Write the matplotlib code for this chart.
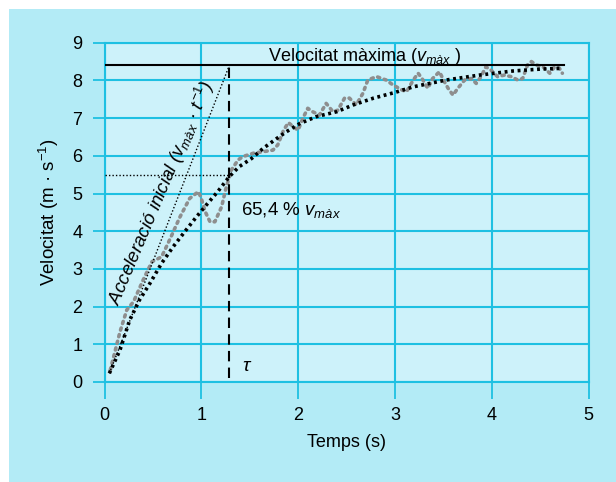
import matplotlib
matplotlib.use("Agg")
import matplotlib.pyplot as plt
from matplotlib.patches import Rectangle

plt.rcParams['font.family'] = ['Liberation Sans', 'DejaVu Sans']
plt.rcParams['mathtext.fontset'] = 'custom'
plt.rcParams['mathtext.it'] = 'Liberation Sans:italic'
plt.rcParams['mathtext.rm'] = 'Liberation Sans'

# ---- data ----
t_fit = [0.05, 0.16, 0.26, 0.36, 0.47, 0.59, 0.71, 0.83, 0.95, 1.05, 1.17, 1.29,
         1.39, 1.52, 1.64, 1.78, 1.88, 2.02, 2.19, 2.40, 2.57, 2.78, 3.0, 3.19,
         3.53, 3.87, 4.22, 4.50, 4.72]
v_fit = [0.23, 0.85, 1.64, 2.17, 2.62, 3.15, 3.59, 3.99, 4.38, 4.69, 5.05, 5.45,
         5.71, 5.93, 6.20, 6.46, 6.64, 6.86, 7.04, 7.17, 7.35, 7.53, 7.68, 7.83,
         8.01, 8.14, 8.25, 8.30, 8.32]

t_raw = [0.06, 0.16, 0.23, 0.30, 0.40, 0.49, 0.59, 0.68, 0.78, 0.88, 0.97, 1.00,
         1.04, 1.09, 1.14, 1.21, 1.25, 1.31, 1.38, 1.43, 1.54, 1.64, 1.74, 1.79,
         1.85, 1.90, 1.95, 2.00, 2.05, 2.10, 2.15, 2.22, 2.29, 2.36, 2.41, 2.48,
         2.53, 2.60, 2.67, 2.72, 2.81, 2.91, 2.98, 3.07, 3.12, 3.19, 3.24, 3.28,
         3.34, 3.39, 3.46, 3.51, 3.55, 3.60, 3.65, 3.72, 3.79, 3.84, 3.89, 3.94,
         3.99, 4.06, 4.13, 4.20, 4.27, 4.32, 4.37, 4.41, 4.46, 4.53, 4.60, 4.65,
         4.70, 4.73]
v_raw = [0.32, 1.33, 1.91, 2.13, 2.71, 3.19, 3.32, 3.81, 4.38, 4.87, 5.05, 4.87,
         4.52, 4.25, 4.25, 4.65, 5.09, 5.62, 5.89, 5.98, 6.07, 6.11, 6.15, 6.29,
         6.68, 6.88, 6.77, 6.68, 7.00, 7.26, 7.17, 7.08, 7.39, 7.17, 7.21, 7.53,
         7.53, 7.35, 7.66, 8.01, 8.10, 8.01, 7.88, 7.75, 7.70, 8.01, 8.19, 8.05,
         7.79, 8.05, 8.23, 7.97, 7.79, 7.61, 7.79, 8.01, 8.05, 7.92, 8.10, 8.36,
         8.28, 8.10, 8.14, 8.10, 8.01, 8.05, 8.41, 8.50, 8.41, 8.36, 8.19, 8.36,
         8.32, 8.19]

v_max = 8.4
t_max_end = 4.75
tau = 1.29
v_tau = 5.49
tangent_t = [0.05, 1.29]
tangent_v = [0.23, 8.4]

x_ticks = [0, 1, 2, 3, 4, 5]
y_ticks = [0, 1, 2, 3, 4, 5, 6, 7, 8, 9]

# ---- figure ----
W, H = 616, 482
fig = plt.figure(figsize=(W / 100, H / 100), dpi=100)
fig.patch.set_facecolor('white')
fig.patches.append(Rectangle((9 / W, 0), 1 - 9 / W, 1 - 9 / H, transform=fig.transFigure,
                             facecolor='#b3ebf6', edgecolor='none', zorder=-10))

ax = fig.add_axes([104.5 / W, 1 - 382 / H, (588.5 - 104.5) / W, (382 - 42.7) / H])
ax.set_facecolor('#cdf2fa')
grid_c = '#1ec0e2'
ax.set_xlim(0, 5)
ax.set_ylim(0, 9)
ax.set_xticks(x_ticks)
ax.set_yticks(y_ticks)
ax.grid(True, color=grid_c, lw=1.5)
ax.set_axisbelow(True)
for s in ax.spines.values():
    s.set_color(grid_c)
    s.set_linewidth(1.5)
ax.tick_params(axis='x', direction='out', length=12, width=1.3, color=grid_c,
               labelsize=13, pad=6)
ax.tick_params(axis='y', direction='out', length=9, width=1.3, color=grid_c,
               labelsize=13, pad=7)
ax.set_xlabel('Temps (s)', fontsize=13, labelpad=7)
ax.set_ylabel('Velocitat (m · s$^{-1}$)', fontsize=13.5, labelpad=8)

# raw data (grey dotted)
ax.plot(t_raw, v_raw, color='#8e8e8e', lw=2.6, ls=(0, (0.6, 1.3)),
        dash_capstyle='round', zorder=3)
# fitted curve (black dotted)
ax.plot(t_fit, v_fit, color='black', lw=2.6, ls=(0, (0.8, 1.0)), zorder=4)
# vmax line
ax.plot([0, t_max_end], [v_max, v_max], color='black', lw=1.5, zorder=5)
# tangent line
ax.plot(tangent_t, tangent_v, color='black', lw=1.0, ls=(0, (1, 1.5)), zorder=5)
# tau vertical dashed
ax.plot([tau, tau], [0.1, v_max], color='black', lw=1.5, ls=(0, (5, 3)), zorder=5)
# 65.4% horizontal dotted
ax.plot([0, tau], [v_tau, v_tau], color='black', lw=1.0, ls=(0, (1, 1.5)), zorder=5)

ax.text(2.69, 8.63, 'Velocitat màxima ($v_{màx}$ )', fontsize=13, ha='center', va='center')
ax.text(1.41, 4.56, '65,4 % $v_{màx}$', fontsize=13.5, ha='left', va='center')
ax.text(1.42, 0.4, r'$\tau$', fontsize=14, ha='left', va='center')
ax.text(0.58, 5.0, 'Acceleració inicial ($v_{màx}$ · $t^{-1}$)', fontsize=13.5,
        style='italic', ha='center', va='center', rotation=67, rotation_mode='anchor')

fig.savefig('out.png', dpi=100)
